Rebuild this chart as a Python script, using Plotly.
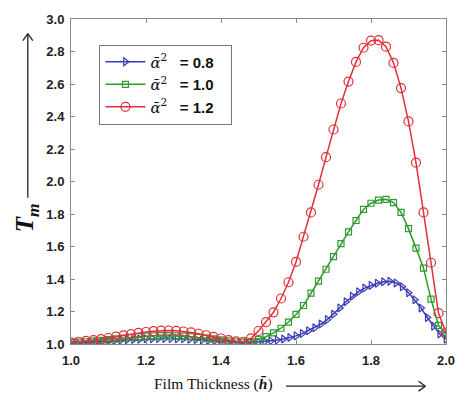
import plotly.graph_objects as go

# ---------------- data ----------------
x_red_green = [1.00, 1.02, 1.04, 1.06, 1.08, 1.10, 1.12, 1.14, 1.16, 1.18,
               1.20, 1.22, 1.24, 1.26, 1.28, 1.30, 1.32, 1.34, 1.36, 1.38,
               1.40, 1.42, 1.44, 1.46, 1.48, 1.50, 1.52, 1.54, 1.56, 1.58,
               1.60, 1.62, 1.64, 1.66, 1.68, 1.70, 1.72, 1.74, 1.76, 1.78,
               1.80, 1.82, 1.84, 1.86, 1.88, 1.90, 1.92, 1.94, 1.96, 1.98, 2.00]

y_red = [1.010, 1.014, 1.019, 1.024, 1.030, 1.037, 1.045, 1.053, 1.061, 1.068,
         1.074, 1.079, 1.082, 1.083, 1.081, 1.077, 1.071, 1.063, 1.054, 1.044,
         1.034, 1.024, 1.016, 1.014, 1.035, 1.080, 1.135, 1.195, 1.280, 1.380,
         1.505, 1.660, 1.810, 1.980, 2.150, 2.320, 2.480, 2.615, 2.736, 2.823,
         2.867, 2.870, 2.830, 2.730, 2.575, 2.370, 2.116, 1.810, 1.500, 1.190, 1.070]

y_green = [1.008, 1.011, 1.014, 1.018, 1.022, 1.027, 1.032, 1.037, 1.041, 1.045,
           1.048, 1.050, 1.051, 1.051, 1.050, 1.048, 1.045, 1.041, 1.036, 1.031,
           1.025, 1.019, 1.014, 1.011, 1.015, 1.028, 1.045, 1.068, 1.097, 1.135,
           1.182, 1.237, 1.313, 1.387, 1.460, 1.538, 1.618, 1.690, 1.760, 1.828,
           1.866, 1.886, 1.890, 1.870, 1.810, 1.710, 1.590, 1.467, 1.276, 1.115, 1.060]

x_blue = [1.0000, 1.0167, 1.0333, 1.0500, 1.0667, 1.0833, 1.1000, 1.1167, 1.1333, 1.1500,
          1.1667, 1.1833, 1.2000, 1.2167, 1.2333, 1.2500, 1.2667, 1.2833, 1.3000, 1.3167,
          1.3333, 1.3500, 1.3667, 1.3833, 1.4000, 1.4167, 1.4333, 1.4500, 1.4667, 1.4833,
          1.5000, 1.5167, 1.5333, 1.5500, 1.5667, 1.5833, 1.6000, 1.6167, 1.6333, 1.6500,
          1.6667, 1.6833, 1.7000, 1.7167, 1.7333, 1.7500, 1.7667, 1.7833, 1.8000, 1.8167,
          1.8333, 1.8500, 1.8667, 1.8833, 1.9000, 1.9167, 1.9333, 1.9500, 1.9667, 1.9833, 2.0000]

y_blue = [1.005, 1.007, 1.009, 1.011, 1.013, 1.015, 1.018, 1.021, 1.024, 1.026,
          1.028, 1.030, 1.032, 1.033, 1.034, 1.034, 1.034, 1.033, 1.032, 1.030,
          1.028, 1.025, 1.022, 1.019, 1.016, 1.013, 1.010, 1.008, 1.007, 1.008,
          1.011, 1.015, 1.019, 1.024, 1.031, 1.040, 1.050, 1.064, 1.082, 1.100,
          1.123, 1.150, 1.183, 1.222, 1.260, 1.294, 1.322, 1.344, 1.360, 1.374,
          1.383, 1.386, 1.376, 1.352, 1.316, 1.272, 1.222, 1.163, 1.110, 1.062, 1.030]

series_labels = ["= 0.8", "= 1.0", "= 1.2"]
x_ticks = [1.0, 1.2, 1.4, 1.6, 1.8, 2.0]
y_ticks = [1.0, 1.2, 1.4, 1.6, 1.8, 2.0, 2.2, 2.4, 2.6, 2.8, 3.0]

# ---------------- styling ----------------
W, H = 467, 400
L, R, T, B = 71, 14, 13, 56
PW, PH = W - L - R, H - T - B

def px(xp):
    return (xp - L) / PW

def py(yp):
    return (H - B - yp) / PH

BLUE = "#3a3ab8"
GREEN = "#2f9a2f"
RED = "#e0303a"
alpha = ('<span style="font-family:DejaVu Serif;font-weight:normal">'
         '<i>ᾱ</i><sup>2</sup></span>')

fig = go.Figure()
fig.add_trace(go.Scatter(
    x=x_blue, y=y_blue, mode="lines+markers", name=f"{alpha}   {series_labels[0]}   ",
    line=dict(color=BLUE, width=1.5),
    marker=dict(symbol="triangle-right-open", size=7, color=BLUE, line=dict(width=1.2))))
fig.add_trace(go.Scatter(
    x=x_red_green, y=y_green, mode="lines+markers", name=f"{alpha}   {series_labels[1]}   ",
    line=dict(color=GREEN, width=1.5),
    marker=dict(symbol="square-open", size=6, color=GREEN, line=dict(width=1.2))))
fig.add_trace(go.Scatter(
    x=x_red_green, y=y_red, mode="lines+markers", name=f"{alpha}   {series_labels[2]}   ",
    line=dict(color=RED, width=1.5),
    marker=dict(symbol="circle-open", size=9, color=RED, line=dict(width=1.2))))

axis_common = dict(
    showgrid=False, zeroline=False, showline=True, linecolor="#8a8a8a", linewidth=1,
    mirror="ticks", ticks="inside", ticklen=4, tickcolor="#8a8a8a",
    tickfont=dict(family="Liberation Sans", size=13, color="#222", weight="bold"),
    tickformat=".1f",
)
fig.update_xaxes(range=[1.0, 2.0], tickvals=x_ticks, ticklabelstandoff=4, **axis_common)
fig.update_yaxes(range=[1.0, 3.0], tickvals=y_ticks, ticklabelstandoff=3, **axis_common)

shapes = []
line_style = dict(color="#222", width=1.3)
# vertical arrow for the y title
shapes.append(dict(type="line", xref="paper", yref="paper",
                   x0=px(27), y0=py(195), x1=px(27), y1=py(28), line=line_style))
shapes.append(dict(type="line", xref="paper", yref="paper",
                   x0=px(22), y0=py(35), x1=px(27), y1=py(28), line=line_style))
shapes.append(dict(type="line", xref="paper", yref="paper",
                   x0=px(32), y0=py(35), x1=px(27), y1=py(28), line=line_style))
# horizontal arrow for the x title
shapes.append(dict(type="line", xref="paper", yref="paper",
                   x0=px(290), y0=py(387), x1=px(432), y1=py(387), line=line_style))
shapes.append(dict(type="line", xref="paper", yref="paper",
                   x0=px(425), y0=py(382), x1=px(432), y1=py(387), line=line_style))
shapes.append(dict(type="line", xref="paper", yref="paper",
                   x0=px(425), y0=py(392), x1=px(432), y1=py(387), line=line_style))

annotations = [
    dict(xref="paper", yref="paper", x=px(26), y=py(215), textangle=-90,
         text="<b><i>T</i></b><sub><b><i>m</i></b></sub>", showarrow=False,
         font=dict(family="Liberation Serif", size=25, color="#111"),
         xanchor="center", yanchor="middle"),
    dict(xref="paper", yref="paper", x=px(216), y=py(385),
         text="Film Thickness (<b><i>h̄</i></b>)", showarrow=False,
         font=dict(family="Liberation Serif", size=15.5, color="#111"),
         xanchor="center", yanchor="middle"),
]

fig.update_layout(
    width=W, height=H,
    margin=dict(l=L, r=R, t=T, b=B),
    paper_bgcolor="white", plot_bgcolor="white",
    showlegend=True,
    legend=dict(x=px(100), y=py(39), xanchor="left", yanchor="top",
                bordercolor="#777", borderwidth=1, bgcolor="white",
                font=dict(family="Liberation Sans", size=15, color="#111", weight="bold"),
                tracegroupgap=0, itemwidth=40),
    shapes=shapes,
    annotations=annotations,
)

fig.write_html("out.html")
